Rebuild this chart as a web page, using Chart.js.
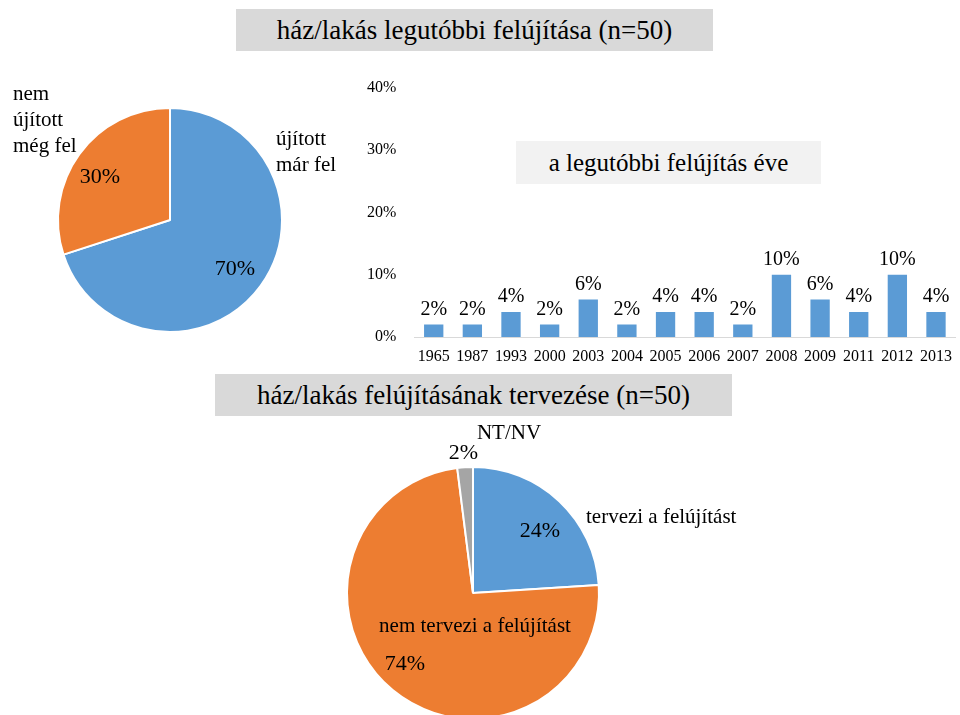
<!DOCTYPE html>
<html>
<head>
<meta charset="utf-8">
<script src="https://cdn.jsdelivr.net/npm/chart.js@4"></script>
<style>
  html, body { margin: 0; padding: 0; background: #fff; overflow: hidden; width: 960px; height: 715px; }
  body { position: relative; font-family: "Liberation Serif", "Times New Roman", serif; color: #000; }
  .box { position: absolute; background: #d9d9d9; text-align: center; white-space: nowrap; }
  canvas { position: absolute; }
</style>
</head>
<body>
<div class="box" style="left:236px;top:9px;width:477px;height:42px;line-height:42px;font-size:27px;">ház/lakás legutóbbi felújítása (n=50)</div>
<canvas id="pie1" width="350" height="290" style="left:0;top:60px"></canvas>
<canvas id="bars" width="612" height="310" style="left:350px;top:60px"></canvas>
<div class="box" style="left:516px;top:141px;width:305px;height:43px;line-height:43px;font-size:25px;background:#f2f2f2;">a legutóbbi felújítás éve</div>
<div class="box" style="left:215px;top:374px;width:517px;height:42px;line-height:42px;font-size:27px;">ház/lakás felújításának tervezése (n=50)</div>
<canvas id="pie2" width="450" height="305" style="left:330px;top:420px"></canvas>

<script>
// Data
const renovatedLabels = [["újított", "már fel"], ["nem", "újított", "még fel"]];
const renovatedShares = [70, 30];

const years = ["1965", "1987", "1993", "2000", "2003", "2004", "2005", "2006", "2007", "2008", "2009", "2011", "2012", "2013"];
const yearShares = [2, 2, 4, 2, 6, 2, 4, 4, 2, 10, 6, 4, 10, 4];
const yearAxisMax = 40;
const yearAxisStep = 10;

const planLabels = ["tervezi a felújítást", "nem tervezi a felújítást", "NT/NV"];
const planShares = [24, 74, 2];

const BLUE = "#5B9BD5", ORANGE = "#ED7D31", GREY = "#A5A5A5";
const SERIF = "'Liberation Serif', 'Times New Roman', serif";

Chart.defaults.font.family = SERIF;
Chart.defaults.color = "#000";
Chart.defaults.animation = false;

// draws category names + percents around a pie, offsets are relative to the pie centre
const pieLabels = {
  id: "pieLabels",
  afterDraw(chart, args, opts) {
    const ctx = chart.ctx;
    const arcs = chart.getDatasetMeta(0).data;
    const cx = arcs[0].x, cy = arcs[0].y;
    const values = chart.data.datasets[0].data;
    ctx.save();
    ctx.fillStyle = "#000";
    ctx.textBaseline = "alphabetic";
    opts.spots.forEach((s, i) => {
      const lines = [].concat(chart.data.labels[i]);
      ctx.font = "21px " + SERIF;
      ctx.textAlign = s.align;
      lines.forEach((ln, k) => ctx.fillText(ln, cx + s.name[0], cy + s.name[1] + k * opts.lineHeight));
      ctx.font = "22px " + SERIF;
      ctx.textAlign = "center";
      ctx.fillText(values[i] + "%", cx + s.pct[0], cy + s.pct[1]);
    });
    ctx.restore();
  }
};

// value labels on top of the bars
const barValueLabels = {
  id: "barValueLabels",
  afterDatasetsDraw(chart) {
    const ctx = chart.ctx;
    const meta = chart.getDatasetMeta(0);
    const values = chart.data.datasets[0].data;
    ctx.save();
    ctx.font = "20px " + SERIF;
    ctx.fillStyle = "#000";
    ctx.textAlign = "center";
    ctx.textBaseline = "alphabetic";
    meta.data.forEach((bar, i) => ctx.fillText(values[i] + "%", bar.x, bar.y - 10));
    ctx.restore();
  }
};

const pieBase = {
  responsive: false,
  plugins: { legend: { display: false }, tooltip: { enabled: false } }
};

// Pie 1
new Chart(document.getElementById("pie1"), {
  type: "pie",
  data: {
    labels: renovatedLabels,
    datasets: [{ data: renovatedShares, backgroundColor: [BLUE, ORANGE], borderColor: "#fff", borderWidth: 2 }]
  },
  options: {
    ...pieBase,
    layout: { padding: { left: 57, top: 47, right: 67, bottom: 17 } },
    plugins: {
      ...pieBase.plugins,
      pieLabels: {
        lineHeight: 26,
        spots: [
          { name: [106, -75], align: "left", pct: [65, 55] },
          { name: [-157, -120], align: "left", pct: [-70, -37] }
        ]
      }
    }
  },
  plugins: [pieLabels]
});

// Bars
new Chart(document.getElementById("bars"), {
  type: "bar",
  data: {
    labels: years,
    datasets: [{ data: yearShares, backgroundColor: BLUE, categoryPercentage: 1, barPercentage: 0.5 }]
  },
  options: {
    responsive: false,
    layout: { padding: 0 },
    plugins: { legend: { display: false }, tooltip: { enabled: false } },
    scales: {
      x: {
        grid: { display: false, drawTicks: false },
        border: { display: true, color: "#d9d9d9", width: 1 },
        ticks: { font: { size: 16 }, padding: 10, maxRotation: 0, autoSkip: false },
        afterFit: s => { s.height = 33; }
      },
      y: {
        min: 0, max: yearAxisMax,
        grid: { display: false, drawTicks: false },
        border: { display: false },
        ticks: { stepSize: yearAxisStep, font: { size: 16 }, padding: 18, callback: v => v + "%" },
        afterFit: s => { s.width = 64.4; }
      }
    }
  },
  plugins: [barValueLabels]
});

// Pie 2
new Chart(document.getElementById("pie2"), {
  type: "pie",
  data: {
    labels: planLabels,
    datasets: [{ data: planShares, backgroundColor: [BLUE, ORANGE, GREY], borderColor: "#fff", borderWidth: 2 }]
  },
  options: {
    ...pieBase,
    layout: { padding: { left: 16, top: 46, right: 180, bottom: 5 } },
    plugins: {
      ...pieBase.plugins,
      pieLabels: {
        lineHeight: 26,
        spots: [
          { name: [113, -70], align: "left", pct: [67, -56] },
          { name: [2, 39], align: "center", pct: [-68, 77] },
          { name: [36, -154], align: "center", pct: [-9.5, -134] }
        ]
      }
    }
  },
  plugins: [pieLabels]
});
</script>
</body>
</html>
